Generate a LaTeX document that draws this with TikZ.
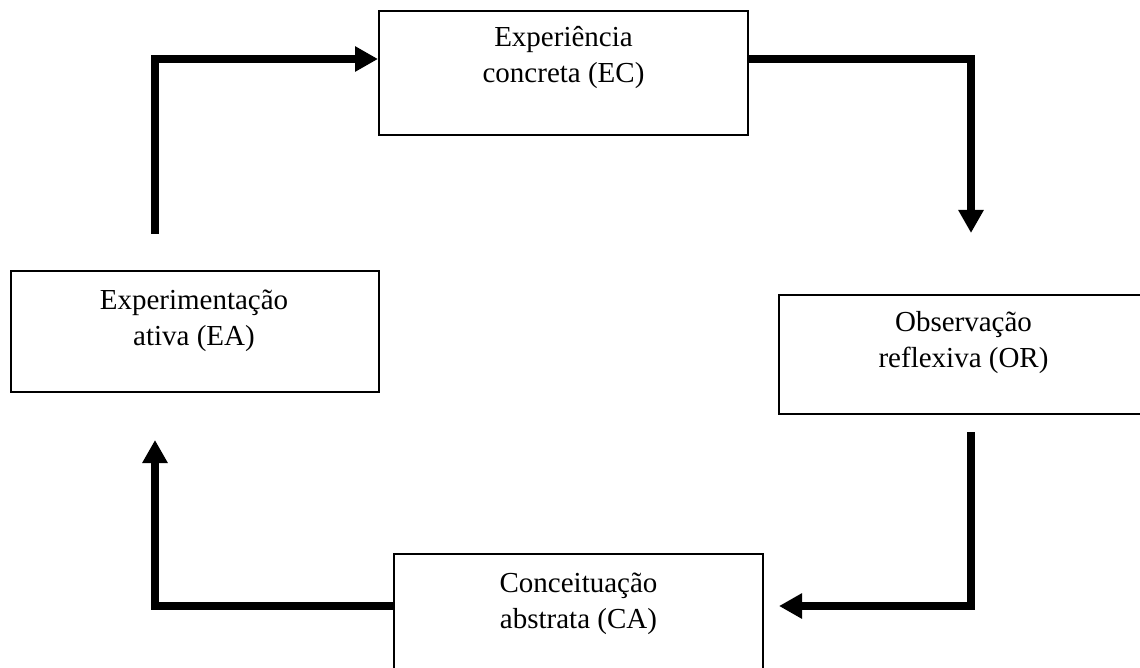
\documentclass[tikz,border=0pt]{standalone}
\usepackage{fontspec}
\setmainfont{Liberation Serif}
\usetikzlibrary{arrows.meta}
\begin{document}
\begin{tikzpicture}[x=1pt,y=-1pt,
  stagebox/.style={draw=black,line width=2pt,rectangle,inner sep=0pt},
  stagetext/.style={align=center,anchor=base,inner sep=0pt,font=\fontsize{29}{36}\selectfont},
  flow/.style={line width=8pt,line join=miter,-{Triangle[length=23pt,width=24pt]}}]
\useasboundingbox (0,0) rectangle (1140,668);
% boxes
\node[stagebox,minimum width=369pt,minimum height=124pt] (ec) at (563.5,73) {};
\node[stagebox,minimum width=368pt,minimum height=121pt] (ea) at (195,331.5) {};
\node[stagebox,minimum width=369pt,minimum height=119pt] (or) at (963.5,354.5) {};
\node[stagebox,minimum width=369pt,minimum height=122pt] (ca) at (578.5,615) {};
% texts (anchor base = baseline of the last line)
\node[stagetext] (ect) at (563.5,83) {Experiência\\concreta (EC)};
\node[stagetext] (eat) at (194,345) {Experimentação\\ativa (EA)};
\node[stagetext] (ort) at (963.5,367) {Observação\\reflexiva (OR)};
\node[stagetext] (cat) at (578.5,628) {Conceituação\\abstrata (CA)};
% connector end points
\coordinate (a1s) at (155,234);
\coordinate (a1c) at (155,59);
\coordinate (a2c) at (971,59);
\coordinate (a2e) at (971,233);
\coordinate (a3s) at (971,432);
\coordinate (a3c) at (971,606);
\coordinate (a3e) at (779,606);
\coordinate (a4c) at (155,606);
\coordinate (a4e) at (155,440);
% connectors
\draw[flow] (a1s) -- (a1c) -- (a1c -| ec.west);
\draw[flow] (a2c -| ec.east) -- (a2c) -- (a2e);
\draw[flow] (a3s) -- (a3c) -- (a3e);
\draw[flow] (a4c -| ca.west) -- (a4c) -- (a4e);
\end{tikzpicture}
\end{document}
